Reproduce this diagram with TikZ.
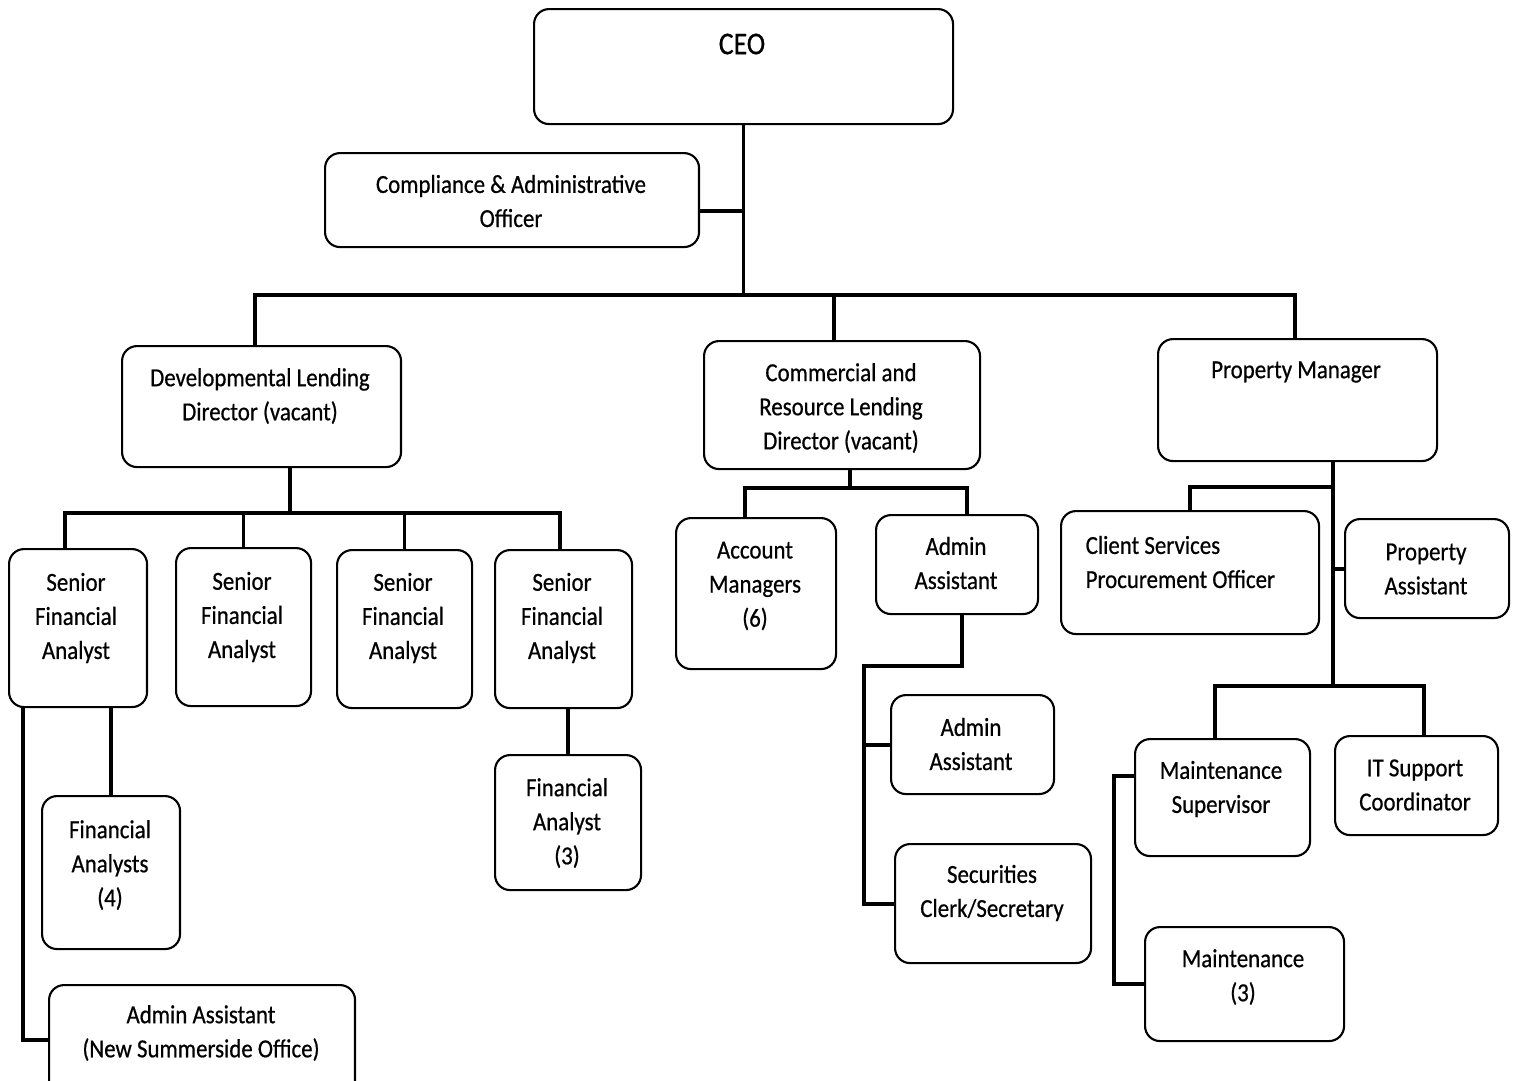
\documentclass[tikz,border=0pt]{standalone}
\usepackage{fontspec}
\setmainfont{Carlito}[FakeStretch=0.88, FakeBold=0.6]
\begin{document}
\begin{tikzpicture}[x=0.1mm, y=-0.1mm,
    box/.style={draw, rounded corners=1.5mm, line width=0.6pt, inner sep=0pt, anchor=north west},
    txt/.style={align=center, inner sep=0pt, font=\fontsize{7.4}{9.7}\selectfont},
    link/.style={line width=1.1pt}]
  \useasboundingbox (0,0) rectangle (1516,1080);

  % Top level
  \node[box, minimum width=41.9mm, minimum height=11.5mm] (ceo) at (533,8) {};
  \node[txt, font=\fontsize{9}{11}\selectfont] (ceo-t) at (742,44) {CEO};
  \node[box, minimum width=37.4mm, minimum height=9.4mm] (comp) at (324,152) {};
  \node[txt] (comp-t) at (511,201) {Compliance \& Administrative\\Officer};

  % Directors
  \node[box, minimum width=27.9mm, minimum height=12.1mm] (dld) at (121,345) {};
  \node[txt] (dld-t) at (260,396) {Developmental Lending\\Director (vacant)};
  \node[box, minimum width=27.6mm, minimum height=12.8mm] (crld) at (703,340) {};
  \node[txt] (crld-t) at (841,408) {Commercial and\\Resource Lending\\Director (vacant)};
  \node[box, minimum width=27.9mm, minimum height=12.2mm] (pm) at (1157,338) {};
  \node[txt] (pm-t) at (1296,372) {Property Manager};

  % Developmental lending
  \node[box, minimum width=13.8mm, minimum height=15.8mm] (sfa1) at (8,548) {};
  \node[txt] (sfa1-t) at (76,618) {Senior\\Financial\\Analyst};
  \node[box, minimum width=13.5mm, minimum height=15.8mm] (sfa2) at (175,547) {};
  \node[txt] (sfa2-t) at (242,617) {Senior\\Financial\\Analyst};
  \node[box, minimum width=13.5mm, minimum height=15.8mm] (sfa3) at (336,549) {};
  \node[txt] (sfa3-t) at (403,618) {Senior\\Financial\\Analyst};
  \node[box, minimum width=13.7mm, minimum height=15.8mm] (sfa4) at (494,549) {};
  \node[txt] (sfa4-t) at (562,618) {Senior\\Financial\\Analyst};
  \node[box, minimum width=13.8mm, minimum height=15.3mm] (fa4) at (41,795) {};
  \node[txt] (fa4-t) at (110,865) {Financial\\Analysts\\(4)};
  \node[box, minimum width=30.6mm, minimum height=11mm] (aan) at (48,984) {};
  \node[txt] (aan-t) at (201,1033) {Admin Assistant\\(New Summerside Office)};
  \node[box, minimum width=14.6mm, minimum height=13.5mm] (fa3) at (494,754) {};
  \node[txt] (fa3-t) at (567,823) {Financial\\Analyst\\(3)};

  % Commercial and resource lending
  \node[box, minimum width=16mm, minimum height=15.1mm] (am) at (675,517) {};
  \node[txt] (am-t) at (755,586) {Account\\Managers\\(6)};
  \node[box, minimum width=16.2mm, minimum height=9.9mm] (aa1) at (875,514) {};
  \node[txt] (aa1-t) at (956,563) {Admin\\Assistant};
  \node[box, minimum width=16.3mm, minimum height=9.9mm] (aa2) at (890,694) {};
  \node[txt] (aa2-t) at (971,744) {Admin\\Assistant};
  \node[box, minimum width=19.6mm, minimum height=11.9mm] (scs) at (894,843) {};
  \node[txt] (scs-t) at (992,893) {Securities\\Clerk/Secretary};

  % Property
  \node[box, minimum width=25.8mm, minimum height=12.3mm] (csp) at (1060,510) {};
  \node[txt, align=left, anchor=west] (csp-t) at (1085,562) {Client Services\\Procurement Officer};
  \node[box, minimum width=16.4mm, minimum height=9.9mm] (pa) at (1344,518) {};
  \node[txt] (pa-t) at (1426,569) {Property\\Assistant};
  \node[box, minimum width=17.5mm, minimum height=11.7mm] (ms) at (1134,738) {};
  \node[txt] (ms-t) at (1221,789) {Maintenance\\Supervisor};
  \node[box, minimum width=16.3mm, minimum height=9.9mm] (it) at (1334,735) {};
  \node[txt] (it-t) at (1415,785) {IT Support\\Coordinator};
  \node[box, minimum width=19.9mm, minimum height=11.4mm] (mnt) at (1144,926) {};
  \node[txt] (mnt-t) at (1243,977) {Maintenance\\(3)};

  % Connectors
  \coordinate (bar) at (745,295);
  \draw[link] (ceo.south) -- (ceo.south |- bar);
  \draw[link] (comp.east) ++(0,11) coordinate (c1) -- (c1 -| ceo.south);
  \draw[link] ([xshift=-0.65mm]dld.north) |- (bar) -| ([xshift=-0.25mm]pm.north);
  \draw[link] ([xshift=-0.8mm]crld.north) -- ([xshift=-0.8mm]crld.north |- bar);

  \coordinate (dbar) at (290,513);
  \draw[link] (dbar) -- (dbar |- dld.south);
  \draw[link] ([xshift=-1.3mm]sfa1.north) |- (dbar) -| ([xshift=-0.35mm]sfa4.north);
  \draw[link] (sfa2.north) -- (sfa2.north |- dbar);
  \draw[link] (sfa3.north) -- (sfa3.north |- dbar);
  \draw[link] (fa4.north) -- (fa4.north |- sfa1.south);
  \draw[link] (aan.west) -| ([xshift=1.5mm]sfa1.south west);
  \draw[link] (fa3.north) -- (fa3.north |- sfa4.south);

  \coordinate (cbar) at (850,488);
  \draw[link] (cbar) -- (cbar |- crld.south);
  \draw[link] ([xshift=-1.1mm]am.north) |- (cbar) -| ([xshift=1mm]aa1.north);
  \coordinate (abar) at (864,666);
  \draw[link] ([xshift=0.5mm]aa1.south) |- (abar) |- (scs.west);
  \draw[link] (aa2.west) -- (aa2.west -| abar);

  \coordinate (ptop) at (1333,487);
  \coordinate (pbar) at (1333,686);
  \draw[link] (pbar) -- (pbar |- pm.south);
  \draw[link] (csp.north) |- (ptop);
  \draw[link] (pa.west) -- (pa.west -| pbar);
  \draw[link] ([xshift=-0.75mm]ms.north) |- (pbar) -| ([xshift=0.75mm]it.north);
  \draw[link] ([yshift=2.15mm]ms.west) -- ++(-20,0) |- (mnt.west);
\end{tikzpicture}
\end{document}
